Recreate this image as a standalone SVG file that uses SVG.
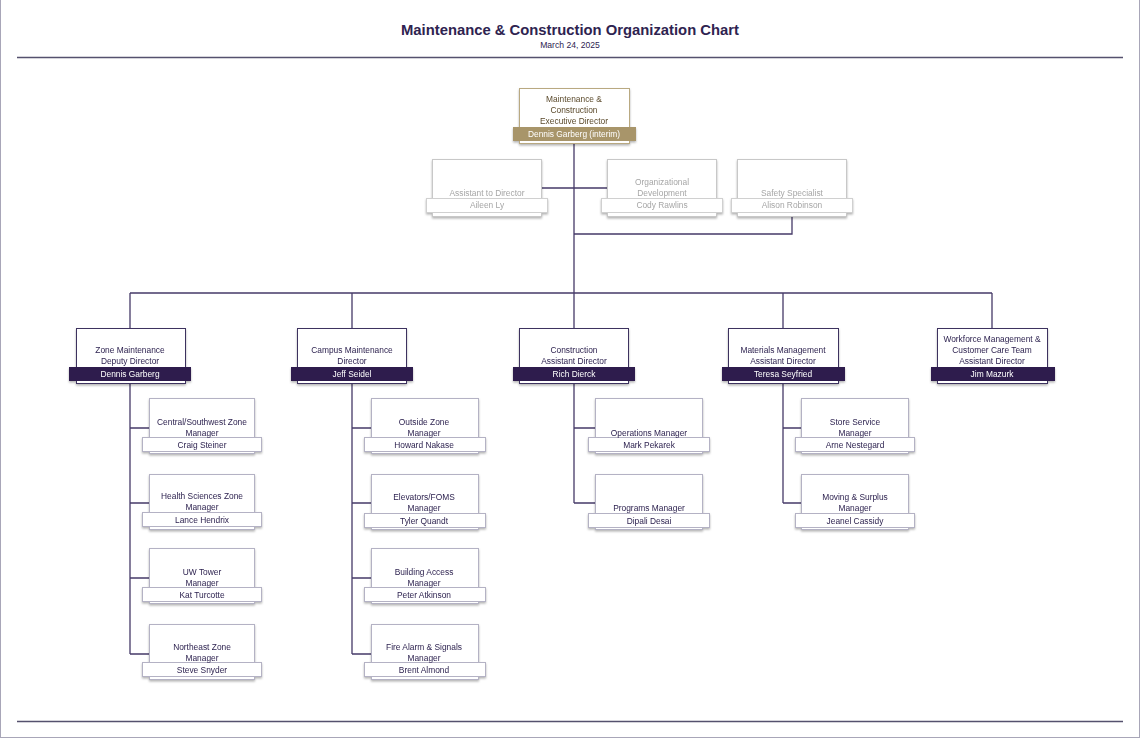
<svg xmlns="http://www.w3.org/2000/svg" width="1140" height="738" viewBox="0 0 1140 738">
<style>
text{font-family:"Liberation Sans",Arial,sans-serif;font-size:8.4px;text-anchor:middle}
.t{fill:#2e2350}
.g{fill:#a6a6a6}
.e{fill:#5b4a2c}
.w{fill:#ffffff}
.bx{fill:#fff;stroke:#3e325f;stroke-width:1}
.bl{fill:#fff;stroke:#b4b2c4;stroke-width:1}
.bg{fill:#fff;stroke:#c8c8c8;stroke-width:1}
.be{fill:#fff;stroke:#b9a981;stroke-width:1}
.nd{fill:#2e1d4d;stroke:#2e1d4d}
.nl{fill:#fff;stroke:#b4b2c4}
.ng{fill:#fff;stroke:#d0d0d0}
.ne{fill:#a8956a;stroke:#a8956a}
.c{fill:none;stroke:#463a68;stroke-width:1.3}
</style>
<defs>
<filter id="ds" x="-10%" y="-10%" width="120%" height="140%">
<feDropShadow dx="0" dy="1.5" stdDeviation="1" flood-color="#000" flood-opacity="0.3"/>
</filter>
</defs>
<line x1="0.5" y1="0" x2="0.5" y2="738" stroke="#a8a6b8"/>
<line x1="1139.5" y1="0" x2="1139.5" y2="738" stroke="#a8a6b8"/>
<line x1="0" y1="737.5" x2="1140" y2="737.5" stroke="#a8a6b8"/>
<text x="570" y="35" style="font-size:14.8px;font-weight:bold" class="t">Maintenance &amp; Construction Organization Chart</text>
<text x="570" y="48" style="font-size:8.6px" class="t">March 24, 2025</text>
<line x1="17" y1="57.5" x2="1123" y2="57.5" stroke="#55516e" stroke-width="1.5"/>
<line x1="17" y1="721.5" x2="1123" y2="721.5" stroke="#55516e" stroke-width="1.5"/>
<g id="connectors">
<path class="c" d="M574 143V293M130 293H992M130 293V328M352 293V328M574 293V328M783 293V328M992 293V328"/>
<path class="c" d="M541 188H607M792 216V234H574"/>
<path class="c" d="M130 383V654M130 428H149M130 503H149M130 578H149M130 654H149"/>
<path class="c" d="M352 383V654M352 428H371M352 503H371M352 578H371M352 654H371"/>
<path class="c" d="M574 383V503M574 428H595M574 503H595"/>
<path class="c" d="M783 383V503M783 428H801M783 503H801"/>
</g>
<g id="exec" filter="url(#ds)">
<rect class="be" x="519.5" y="88.5" width="110" height="55"/>
<rect class="ne" x="513.5" y="127.5" width="122" height="13"/>
<text class="e" x="574" y="102">Maintenance &amp;</text>
<text class="e" x="574" y="113">Construction</text>
<text class="e" x="574" y="124">Executive Director</text>
<text class="w" x="574" y="137">Dennis Garberg (interim)</text>
</g>
<g id="assistant" filter="url(#ds)">
<rect class="bg" x="432.5" y="159.5" width="109" height="57"/>
<rect class="ng" x="426.5" y="198.5" width="121" height="14"/>
<text class="g" x="487" y="196">Assistant to Director</text>
<text class="g" x="487" y="208">Aileen Ly</text>
</g>
<g id="orgdev" filter="url(#ds)">
<rect class="bg" x="607.5" y="159.5" width="109" height="57"/>
<rect class="ng" x="601.5" y="198.5" width="121" height="14"/>
<text class="g" x="662" y="185">Organizational</text>
<text class="g" x="662" y="196">Development</text>
<text class="g" x="662" y="208">Cody Rawlins</text>
</g>
<g id="safety" filter="url(#ds)">
<rect class="bg" x="737.5" y="159.5" width="109" height="57"/>
<rect class="ng" x="731.5" y="198.5" width="121" height="14"/>
<text class="g" x="792" y="196">Safety Specialist</text>
<text class="g" x="792" y="208">Alison Robinson</text>
</g>
<g id="zone" filter="url(#ds)">
<rect class="bx" x="76.5" y="328.5" width="109" height="55"/>
<rect class="nd" x="69.5" y="367.5" width="121" height="13"/>
<text class="t" x="130" y="353">Zone Maintenance</text>
<text class="t" x="130" y="364">Deputy Director</text>
<text class="w" x="130" y="377">Dennis Garberg</text>
</g>
<g id="campus" filter="url(#ds)">
<rect class="bx" x="297.5" y="328.5" width="109" height="55"/>
<rect class="nd" x="291.5" y="367.5" width="121" height="13"/>
<text class="t" x="352" y="353">Campus Maintenance</text>
<text class="t" x="352" y="364">Director</text>
<text class="w" x="352" y="377">Jeff Seidel</text>
</g>
<g id="construction" filter="url(#ds)">
<rect class="bx" x="519.5" y="328.5" width="109" height="55"/>
<rect class="nd" x="513.5" y="367.5" width="121" height="13"/>
<text class="t" x="574" y="353">Construction</text>
<text class="t" x="574" y="364">Assistant Director</text>
<text class="w" x="574" y="377">Rich Dierck</text>
</g>
<g id="materials" filter="url(#ds)">
<rect class="bx" x="728.5" y="328.5" width="110" height="55"/>
<rect class="nd" x="722.5" y="367.5" width="122" height="13"/>
<text class="t" x="783" y="353">Materials Management</text>
<text class="t" x="783" y="364">Assistant Director</text>
<text class="w" x="783" y="377">Teresa Seyfried</text>
</g>
<g id="workforce" filter="url(#ds)">
<rect class="bx" x="937.5" y="328.5" width="110" height="55"/>
<rect class="nd" x="931.5" y="367.5" width="123" height="13"/>
<text class="t" x="992" y="342">Workforce Management &amp;</text>
<text class="t" x="992" y="353">Customer Care Team</text>
<text class="t" x="992" y="364">Assistant Director</text>
<text class="w" x="992" y="377">Jim Mazurk</text>
</g>
<g id="central" filter="url(#ds)">
<rect class="bl" x="149.5" y="398.5" width="105" height="55"/>
<rect class="nl" x="142.5" y="437.5" width="119" height="14"/>
<text class="t" x="202" y="425">Central/Southwest Zone</text>
<text class="t" x="202" y="436">Manager</text>
<text class="t" x="202" y="447.5">Craig Steiner</text>
</g>
<g id="health" filter="url(#ds)">
<rect class="bl" x="149.5" y="474.5" width="105" height="55"/>
<rect class="nl" x="142.5" y="512.5" width="119" height="14"/>
<text class="t" x="202" y="499">Health Sciences Zone</text>
<text class="t" x="202" y="510">Manager</text>
<text class="t" x="202" y="522.5">Lance Hendrix</text>
</g>
<g id="tower" filter="url(#ds)">
<rect class="bl" x="149.5" y="548.5" width="105" height="55"/>
<rect class="nl" x="142.5" y="587.5" width="119" height="14"/>
<text class="t" x="202" y="574.5">UW Tower</text>
<text class="t" x="202" y="585.5">Manager</text>
<text class="t" x="202" y="597.5">Kat Turcotte</text>
</g>
<g id="northeast" filter="url(#ds)">
<rect class="bl" x="149.5" y="624.5" width="105" height="55"/>
<rect class="nl" x="142.5" y="662.5" width="119" height="14"/>
<text class="t" x="202" y="650">Northeast Zone</text>
<text class="t" x="202" y="661">Manager</text>
<text class="t" x="202" y="673">Steve Snyder</text>
</g>
<g id="outside" filter="url(#ds)">
<rect class="bl" x="371.5" y="398.5" width="107" height="55"/>
<rect class="nl" x="364.5" y="437.5" width="121" height="14"/>
<text class="t" x="424" y="425">Outside Zone</text>
<text class="t" x="424" y="436">Manager</text>
<text class="t" x="424" y="447.5">Howard Nakase</text>
</g>
<g id="elevators" filter="url(#ds)">
<rect class="bl" x="371.5" y="474.5" width="107" height="55"/>
<rect class="nl" x="364.5" y="513.5" width="121" height="14"/>
<text class="t" x="424" y="500">Elevators/FOMS</text>
<text class="t" x="424" y="511">Manager</text>
<text class="t" x="424" y="523.5">Tyler Quandt</text>
</g>
<g id="access" filter="url(#ds)">
<rect class="bl" x="371.5" y="548.5" width="107" height="55"/>
<rect class="nl" x="364.5" y="587.5" width="121" height="14"/>
<text class="t" x="424" y="574.5">Building Access</text>
<text class="t" x="424" y="585.5">Manager</text>
<text class="t" x="424" y="597.5">Peter Atkinson</text>
</g>
<g id="firealarm" filter="url(#ds)">
<rect class="bl" x="371.5" y="624.5" width="107" height="55"/>
<rect class="nl" x="364.5" y="662.5" width="121" height="14"/>
<text class="t" x="424" y="650">Fire Alarm &amp; Signals</text>
<text class="t" x="424" y="661">Manager</text>
<text class="t" x="424" y="673">Brent Almond</text>
</g>
<g id="operations" filter="url(#ds)">
<rect class="bl" x="595.5" y="398.5" width="107" height="55"/>
<rect class="nl" x="588.5" y="437.5" width="121" height="14"/>
<text class="t" x="649" y="436">Operations Manager</text>
<text class="t" x="649" y="447.5">Mark Pekarek</text>
</g>
<g id="programs" filter="url(#ds)">
<rect class="bl" x="595.5" y="474.5" width="107" height="55"/>
<rect class="nl" x="588.5" y="513.5" width="121" height="14"/>
<text class="t" x="649" y="511">Programs Manager</text>
<text class="t" x="649" y="523.5">Dipali Desai</text>
</g>
<g id="store" filter="url(#ds)">
<rect class="bl" x="801.5" y="398.5" width="107" height="55"/>
<rect class="nl" x="795.5" y="437.5" width="119" height="14"/>
<text class="t" x="855" y="425">Store Service</text>
<text class="t" x="855" y="436">Manager</text>
<text class="t" x="855" y="447.5">Arne Nestegard</text>
</g>
<g id="moving" filter="url(#ds)">
<rect class="bl" x="801.5" y="474.5" width="107" height="55"/>
<rect class="nl" x="795.5" y="513.5" width="119" height="14"/>
<text class="t" x="855" y="500">Moving &amp; Surplus</text>
<text class="t" x="855" y="511">Manager</text>
<text class="t" x="855" y="523.5">Jeanel Cassidy</text>
</g>
</svg>
